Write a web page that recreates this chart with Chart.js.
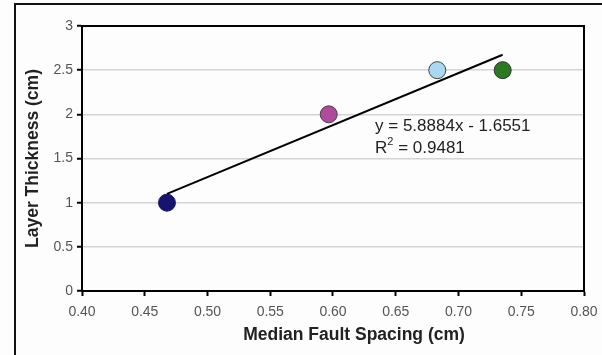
<!DOCTYPE html>
<html>
<head>
<meta charset="utf-8">
<script src="https://cdn.jsdelivr.net/npm/chart.js@4"></script>
<style>
  body { margin: 0; background: #fff; }
  #wrap { position: relative; width: 602px; height: 355px; overflow: hidden; background: #fdfdfd; }
  #frame { position: absolute; left: 14px; top: 3px; width: 620px; height: 400px; border: 2px solid #111; box-sizing: border-box; }
  canvas { position: absolute; left: 0; top: 0; }
</style>
</head>
<body>
<div id="wrap">
  <div id="frame"></div>
  <canvas id="chart" width="602" height="355"></canvas>
</div>
<script>
// measured points
var spacing = [0.4677, 0.5966, 0.6831, 0.7352]
var thickness = [1, 2, 2.5, 2.5]
var pointColors = ['#15156e', '#b04a9c', '#a8d8f2', '#2b7a22']
var pointBorders = ['#15156e', '#444', '#444', '#333']

// trendline from the fit shown on the chart
var slope = 5.8884
var intercept = -1.6551
var fitEq = 'y = 5.8884x - 1.6551'
var fitR2 = '0.9481'
var xTitle = 'Median Fault Spacing (cm)'

var trend = [
  { x: spacing[0], y: slope * spacing[0] + intercept },
  { x: spacing[spacing.length - 1], y: slope * spacing[spacing.length - 1] + intercept }
]

var points = spacing.map(function(x, i) { return { x: x, y: thickness[i] } })

var FONT = '"Liberation Sans", Arial, sans-serif'

var boxAndLabel = {
  id: 'boxAndLabel',
  afterDraw: function(chart) {
    var ctx = chart.ctx
    var a = chart.chartArea
    ctx.save()
    ctx.strokeStyle = '#000'
    ctx.lineWidth = 2
    ctx.strokeRect(a.left, a.top, a.right - a.left, a.bottom - a.top)
    var xs = chart.scales.x, ys = chart.scales.y
    var x0 = xs.getPixelForValue(0.6335)
    ctx.fillStyle = '#222'
    ctx.font = '17px ' + FONT
    ctx.textBaseline = 'middle'
    ctx.fillText(fitEq, x0, ys.getPixelForValue(1.86))
    // R squared with a raised 2
    var y2 = ys.getPixelForValue(1.62)
    ctx.fillText('R', x0, y2)
    var w = ctx.measureText('R').width
    ctx.font = '11px ' + FONT
    ctx.fillText('2', x0 + w, y2 - 6)
    var w2 = ctx.measureText('2').width
    ctx.font = '17px ' + FONT
    ctx.fillText(' = ' + fitR2, x0 + w + w2, y2)
    // x axis title, sits a bit right of the plot centre like the original
    ctx.font = 'bold 17.5px ' + FONT
    ctx.textAlign = 'center'
    ctx.fillText(xTitle, 354, 335)
    ctx.restore()
  }
}

const ctx = document.getElementById('chart')

new Chart(ctx, {
  type: 'scatter',
  data: {
    datasets: [{
      data: points,
      backgroundColor: pointColors,
      borderColor: pointBorders,
      borderWidth: 1,
      pointRadius: 8.5,
      order: 1
    }, {
      type: 'line',
      data: trend,
      borderColor: '#000',
      borderWidth: 2,
      pointRadius: 0,
      fill: false,
      order: 0
    }]
  },
  options: {
    responsive: false,
    animation: false,
    events: [],
    layout: { padding: { left: 0, right: 18, top: 26, bottom: 0 } },
    plugins: { legend: { display: false }, tooltip: { enabled: false } },
    scales: {
      x: {
        type: 'linear',
        min: 0.4,
        max: 0.8,
        afterFit: function(s) {
          s.height = 64
          s.paddingLeft = 0
          s.paddingRight = 0
        },
        ticks: {
          stepSize: 0.05,
          color: '#555',
          font: { family: FONT, size: 14 },
          padding: 8,
          callback: function(v) { return v.toFixed(2) }
        },
        grid: { drawOnChartArea: false, tickColor: '#000', tickLength: 5, tickWidth: 2 },
        border: { color: '#000', width: 2 }
      },
      y: {
        min: 0,
        max: 3,
        afterFit: function(s) {
          s.width = 82
          s.paddingTop = 0
          s.paddingBottom = 0
        },
        ticks: {
          stepSize: 0.5,
          color: '#555',
          font: { family: FONT, size: 14 },
          padding: 4,
          callback: function(v) { return String(v) }
        },
        grid: { color: '#d4d4d4', lineWidth: 1.5, tickColor: '#000', tickLength: 5, tickWidth: 2 },
        border: { color: '#000', width: 2 },
        title: {
          display: true,
          text: 'Layer Thickness (cm)',
          color: '#222',
          font: { family: FONT, size: 17.5, weight: 'bold' },
          padding: { top: 22.5, bottom: 0 }
        }
      }
    }
  },
  plugins: [boxAndLabel]
})
</script>
</body>
</html>
